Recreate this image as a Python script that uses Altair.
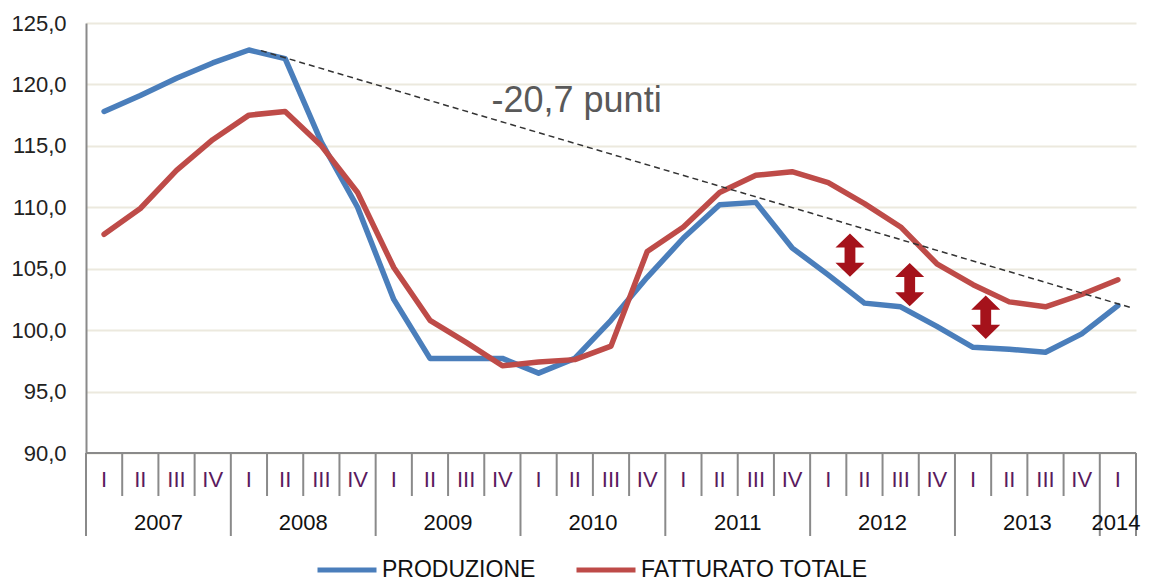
import altair as alt
import pandas as pd

# ---- data ----
quarters = ["I", "II", "III", "IV"] * 7 + ["I"]
years = ["2007", "2008", "2009", "2010", "2011", "2012", "2013", "2014"]
year_t = [2, 6, 10, 14, 18, 22, 26, 28.45]
produzione = [117.8, 119.1, 120.5, 121.75, 122.8, 122.1, 115.3, 110.0,
              102.5, 97.7, 97.7, 97.7, 96.5, 97.7, 100.8, 104.3,
              107.5, 110.2, 110.4, 106.7, 104.5, 102.2, 101.9, 100.3,
              98.6, 98.45, 98.2, 99.7, 102.0]
fatturato = [107.8, 109.9, 113.0, 115.5, 117.5, 117.8, 115.0, 111.2,
             105.1, 100.8, 99.0, 97.1, 97.4, 97.6, 98.7, 106.4,
             108.4, 111.2, 112.6, 112.9, 112.0, 110.3, 108.4, 105.4,
             103.7, 102.3, 101.9, 102.9, 104.1]
series_names = ["PRODUZIONE", "FATTURATO TOTALE"]
series_colors = ["#4A7EBB", "#BE4B48"]

trend_t = [4.83, 28.9]
trend_v = [122.75, 101.8]
note_t = [11.2]
note_v = [117.75]
note_text = ["-20,7 punti"]
arrow_t = [21.1, 22.75, 24.85]
arrow_v = [106.1, 103.7, 101.05]

# ---- tables ----
n = len(quarters)
rows = []
for name, vals in zip(series_names, [produzione, fatturato]):
    for i, v in enumerate(vals):
        rows.append({"t": i + 0.5, "v": v, "serie": name, "o": i})
lines_df = pd.DataFrame(rows)
qlab_df = pd.DataFrame({"t": [i + 0.5 for i in range(n)], "lab": quarters})
year_df = pd.DataFrame({"t": year_t, "lab": years})
short_df = pd.DataFrame({"t": [i for i in range(1, n) if i % 4 != 0]})
long_df = pd.DataFrame({"t": [i for i in range(0, n, 4)] + [n]})
trend_df = pd.DataFrame({"t": trend_t, "v": trend_v})
note_df = pd.DataFrame({"t": note_t, "v": note_v, "txt": note_text})
arrow_df = pd.DataFrame({"t": arrow_t, "v": arrow_v})

W, H = 1050, 430
FONT = "Liberation Sans"
GRAY = "#8A8A8A"

xs = alt.Scale(domain=[0, n], nice=False, zero=False)
ys = alt.Scale(domain=[90, 125], nice=False, zero=False)
X = alt.X("t:Q", scale=xs, axis=None)

lines = alt.Chart(lines_df).mark_line(strokeWidth=5.5, strokeJoin="round", strokeCap="round").encode(
    x=X,
    y=alt.Y("v:Q", scale=ys, title=None,
            axis=alt.Axis(values=[90, 95, 100, 105, 110, 115, 120, 125],
                          labelExpr="replace(format(datum.value, '.1f'), '.', ',')",
                          ticks=False, labelPadding=20, labelFont=FONT, labelFontSize=22,
                          labelColor="#222222", domainColor=GRAY, domainWidth=2,
                          gridColor="#ECE9DE", gridWidth=2)),
    color=alt.Color("serie:N", scale=alt.Scale(domain=series_names, range=series_colors),
                    legend=alt.Legend(orient="none", legendX=229, legendY=515, direction="horizontal",
                                      title=None, symbolType="stroke", symbolSize=3481,
                                      symbolStrokeWidth=5, labelFont=FONT, labelFontSize=23,
                                      labelColor="#111111", columnPadding=30, labelOffset=3,
                                      padding=0, labelLimit=500)),
    order=alt.Order("o:Q"),
    detail="serie:N",
)

trend = alt.Chart(trend_df).mark_line(color="#333333", strokeWidth=1.5, strokeDash=[6, 4]).encode(
    x=X, y=alt.Y("v:Q", scale=ys))

note = alt.Chart(note_df).mark_text(align="left", baseline="alphabetic", font=FONT, fontSize=36,
                                     color="#595959").encode(
    x=X, y=alt.Y("v:Q", scale=ys), text="txt:N")

arrow_path = ("M0,-1L0.67,-0.35L0.25,-0.35L0.25,0.35L0.67,0.35L0,1L-0.67,0.35"
              "L-0.25,0.35L-0.25,-0.35L-0.67,-0.35Z")
arrows = alt.Chart(arrow_df).mark_point(shape=arrow_path, filled=True, fill="#A5121B",
                                         strokeWidth=0, opacity=1, size=1875).encode(
    x=X, y=alt.Y("v:Q", scale=ys))

baseline = alt.Chart(pd.DataFrame({"t": [0], "t2": [n]})).mark_rule(color=GRAY, strokeWidth=2).encode(
    x=X, x2="t2:Q", y=alt.value(H))

short_rules = alt.Chart(short_df).mark_rule(color=GRAY, strokeWidth=2).encode(
    x=X, y=alt.value(H), y2=alt.value(H + 43))
long_rules = alt.Chart(long_df).mark_rule(color=GRAY, strokeWidth=2).encode(
    x=X, y=alt.value(H), y2=alt.value(H + 83))

qlabels = alt.Chart(qlab_df).mark_text(font=FONT, fontSize=22, color="#5A1A5E", baseline="middle").encode(
    x=X, y=alt.value(H + 27), text="lab:N")
ylabels = alt.Chart(year_df).mark_text(font=FONT, fontSize=22, color="#111111", baseline="middle").encode(
    x=X, y=alt.value(H + 70), text="lab:N")

chart = alt.layer(lines, trend, note, arrows, baseline, short_rules, long_rules, qlabels, ylabels).properties(
    width=W, height=H,
    autosize=alt.AutoSizeParams(type="none"),
    padding={"left": 78, "top": 15, "right": 7, "bottom": 129},
    background="white",
).configure_view(stroke=None)

chart.save("out.html", embed_options={"renderer": "svg", "actions": False})
